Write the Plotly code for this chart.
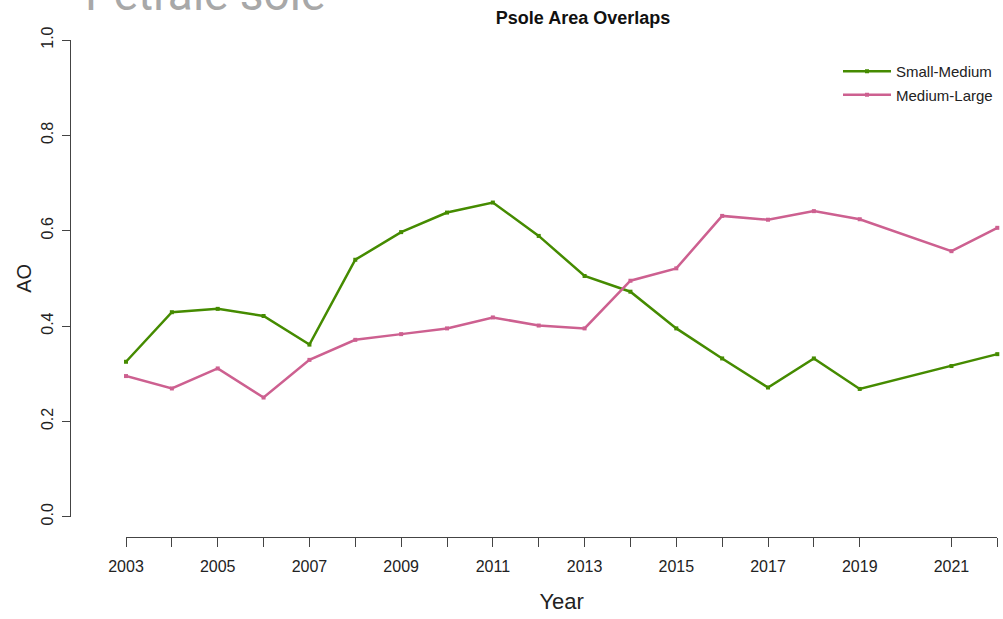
import plotly.graph_objects as go

# Area-overlap index (AO) for petrale sole size classes, by survey year
years = [2003, 2004, 2005, 2006, 2007, 2008, 2009, 2010, 2011, 2012,
         2013, 2014, 2015, 2016, 2017, 2018, 2019, 2021, 2022]
small_medium = [0.325, 0.429, 0.436, 0.421, 0.361, 0.539, 0.597, 0.638, 0.659, 0.589,
                0.505, 0.472, 0.395, 0.332, 0.271, 0.332, 0.268, 0.316, 0.341]
medium_large = [0.295, 0.269, 0.311, 0.250, 0.329, 0.371, 0.383, 0.395, 0.418, 0.401,
                0.395, 0.495, 0.521, 0.631, 0.623, 0.641, 0.624, 0.557, 0.606]

series_names = ["Small-Medium", "Medium-Large"]
series_colors = ["#458B00", "#CD6090"]

y_ticks = [0.0, 0.2, 0.4, 0.6, 0.8, 1.0]
y_tick_labels = ["0.0", "0.2", "0.4", "0.6", "0.8", "1.0"]
x_tick_labels = [str(y) if y % 2 == 1 else "" for y in years]

W, H = 1003, 619
FONT = "Liberation Sans, Arial, sans-serif"


def fx(p):
    return p / W


def fy(p):
    return 1 - p / H


fig = go.Figure()
for i, (name, vals) in enumerate(zip(series_names, [small_medium, medium_large])):
    fig.add_trace(go.Scatter(
        x=years, y=vals, name=name, mode="lines+markers",
        line=dict(color=series_colors[i], width=2.5),
        marker=dict(symbol="square", size=4, color=series_colors[i]),
        cliponaxis=False, legendgroup=name,
    ))

fig.update_layout(
    template="none",
    width=W, height=H,
    margin=dict(l=0, r=0, t=0, b=0, autoexpand=False),
    paper_bgcolor="white", plot_bgcolor="white",
    font=dict(family=FONT, color="#222"),
    title=dict(text="Psole Area Overlaps", x=fx(583), y=fy(18),
               xanchor="center", yanchor="middle", xref="paper", yref="paper",
               automargin=False,
               font=dict(size=18, weight="bold", color="#111", family=FONT)),
    xaxis=dict(domain=[fx(126), fx(997.3)], range=[2003, 2022],
               anchor="free", position=fy(536.7), automargin=False,
               showline=True, linecolor="#444", linewidth=1.2,
               ticks="outside", ticklen=9, tickcolor="#444", tickwidth=1.2,
               tickvals=years, ticktext=x_tick_labels, ticklabelstandoff=6,
               tickfont=dict(size=16, color="#222"),
               showgrid=False, zeroline=False,
               title=dict(text="Year", font=dict(size=22, color="#222"), standoff=19)),
    yaxis=dict(domain=[fy(516.7), fy(40)], range=[0, 1],
               anchor="free", position=fx(70), automargin=False,
               showline=True, linecolor="#444", linewidth=1.2,
               ticks="outside", ticklen=8, tickcolor="#444", tickwidth=1.2,
               tickvals=y_ticks, ticktext=y_tick_labels, tickangle=-90,
               ticklabelstandoff=3,
               tickfont=dict(size=16, color="#222"),
               showgrid=False, zeroline=False,
               title=dict(text="AO", font=dict(size=20, color="#222"), standoff=0)),
    legend=dict(x=fx(838), y=fy(55), xanchor="left", yanchor="top",
                bgcolor="rgba(0,0,0,0)", font=dict(size=15, color="#222"),
                tracegroupgap=1, itemwidth=48),
    showlegend=True,
)

# Slide heading partly visible above the plot
fig.add_annotation(text="Petrale sole", xref="paper", yref="paper",
                   x=fx(83), y=fy(-6), xanchor="left", yanchor="middle",
                   showarrow=False,
                   font=dict(size=46, color="#a8a8a8", family="Roboto, " + FONT))

fig.write_html("out.html")
